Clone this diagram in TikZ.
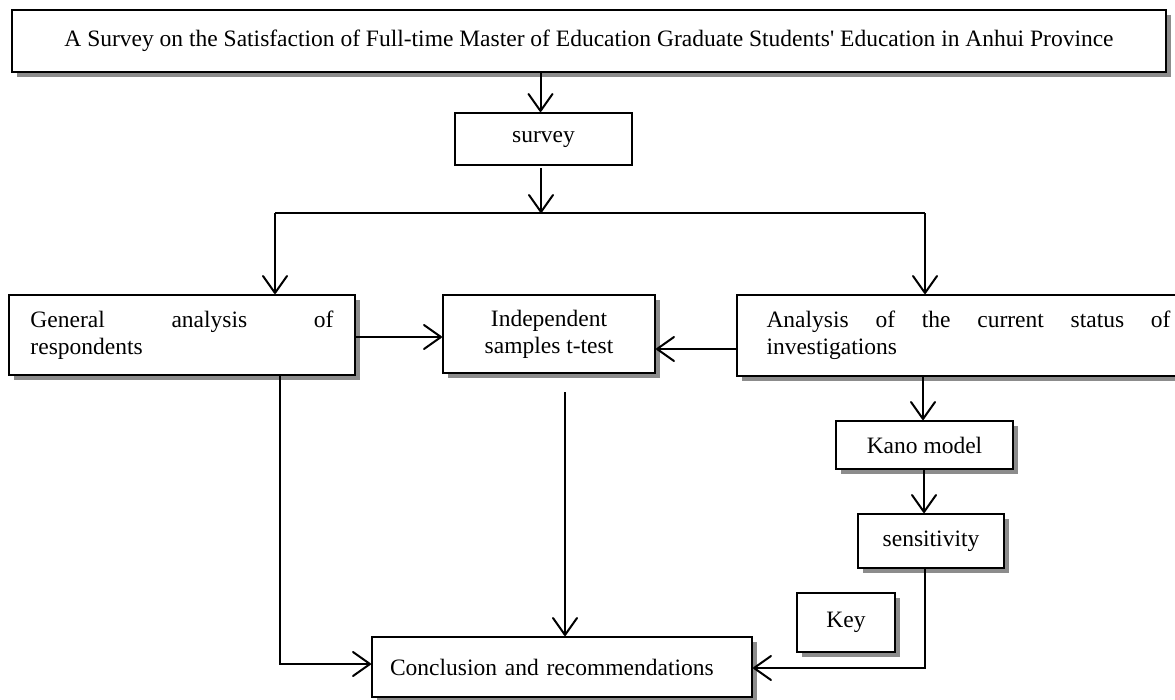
\documentclass[tikz,border=0pt]{standalone}
\usepackage{fontspec}
\setmainfont{Liberation Serif}
\usetikzlibrary{arrows.meta,shadows}
\begin{document}
\begin{tikzpicture}[x=1pt,y=-1pt,
  box/.style={draw=black,line width=2pt,fill=white,inner sep=0pt,
    font=\fontsize{23.5}{27}\selectfont},
  shbox/.style={box,drop shadow={shadow xshift=5pt,shadow yshift=-5pt,fill=black!45,opacity=1}},
  arr/.style={line width=2pt,-{Straight Barb[length=17pt,width=24pt,line width=2pt,round]}},
  ln/.style={line width=2pt}]
\useasboundingbox (0,0) rectangle (1175,699);
\node[shbox,minimum width=1154pt,minimum height=62pt] (title) at (589,41)
  {A Survey on the Satisfaction of Full-time Master of Education Graduate Students\textquotesingle\ Education in Anhui Province};
\node[box,minimum width=177pt,minimum height=52pt] (survey) at (543.5,139) {survey};
\node[shbox,minimum width=346pt,minimum height=80pt,text width=303pt,align=left] (general) at (182,335)
  {\hbox to\linewidth{General\hfill analysis\hfill of}\\respondents};
\node[shbox,minimum width=212pt,minimum height=78pt,align=center] (indep) at (549,334)
  {Independent\\samples t-test};
\node[shbox,minimum width=463pt,minimum height=81pt,text width=404pt,align=left] (analysis) at (968.5,335.5)
  {\hbox to\linewidth{Analysis\hfill of\hfill the\hfill current\hfill status\hfill of}\\investigations};
\node[shbox,minimum width=177pt,minimum height=48pt] (kano) at (924.5,445) {Kano model};
\node[shbox,minimum width=146pt,minimum height=54pt] (sens) at (931,541) {sensitivity};
\node[shbox,minimum width=98pt,minimum height=59pt] (key) at (846,622.5) {Key};
\node[shbox,minimum width=380pt,minimum height=60pt,text width=344pt,align=left] (concl) at (562,667)
  {Conclusion and recommendations};
% connectors
\draw[arr] (survey.north |- title.south) ++(-3,0) coordinate (t1) -- (t1 |- survey.north);
\coordinate (split) at (541,213);
\draw[arr] (541,168) coordinate (s1) -- (split);
\coordinate (hl) at (275,213);
\coordinate (hr) at (925,213);
\draw[ln] (hl) -- (hr);
\draw[arr] (hl) -- (hl |- general.north);
\draw[arr] (hr) -- (hr |- analysis.north);
\coordinate (g1) at (355,337);
\draw[arr] (g1) -- (g1 -| indep.west);
\coordinate (a1) at (737,349);
\draw[arr] (a1) -- (a1 -| indep.east);
\coordinate (a2) at (923,376);
\draw[arr] (a2) -- (a2 |- kano.north);
\coordinate (k1) at (924,469);
\draw[arr] (k1) -- (k1 |- sens.north);
\coordinate (sc) at (925,668);
\draw[arr] (sens.south -| sc) -- (sc) -- (sc -| concl.east);
\coordinate (i1) at (565,392);
\draw[arr] (i1) -- (i1 |- concl.north);
\coordinate (gc) at (280,664);
\draw[arr] (gc |- general.south) -- (gc) -- (gc -| concl.west);
\end{tikzpicture}
\end{document}
